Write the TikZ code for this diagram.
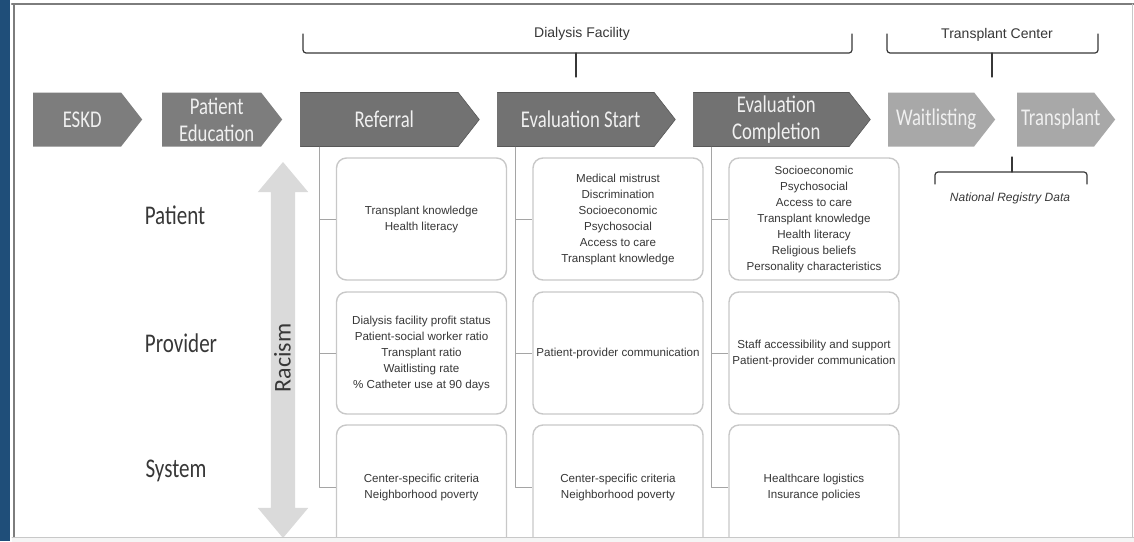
\documentclass[tikz,border=0pt]{standalone}
\usepackage{fontspec}
\setmainfont{Liberation Sans}
\newfontfamily\chevfont[FakeStretch=0.78]{Carlito}
\newfontfamily\racefont{Carlito}
\usetikzlibrary{shapes.symbols,shapes.arrows}

\definecolor{barblue}{RGB}{31,78,121}
\definecolor{framegray}{RGB}{125,125,125}
\definecolor{chevA}{RGB}{125,125,125}
\definecolor{chevB}{RGB}{114,114,114}
\definecolor{chevBline}{RGB}{88,88,88}
\definecolor{chevC}{RGB}{168,168,168}
\definecolor{chevtext}{RGB}{240,240,240}
\definecolor{boxline}{RGB}{200,200,200}
\definecolor{connline}{RGB}{165,165,165}
\definecolor{racegray}{RGB}{218,218,218}
\definecolor{labtext}{RGB}{55,55,55}

% stage text, nudged right of the body centre
\newcommand\stg[1]{\makebox[0pt]{\hspace{10pt}#1}}

\begin{document}
\begin{tikzpicture}[x=1pt,y=-1pt,line cap=round,line join=round,
  chev/.style={signal,signal to=east,signal pointer angle=104,minimum height=54pt,
    inner sep=0pt,anchor=west,text=chevtext,align=center,
    font=\chevfont\fontsize{24}{27}\selectfont},
  early/.style={chev,fill=chevA},
  dial/.style={chev,fill=chevB,draw=chevBline,line width=0.6pt},
  tcen/.style={chev,fill=chevC},
  factor/.style={draw=boxline,line width=1.4pt,rounded corners=10pt,fill=white,
    minimum width=170pt,minimum height=122pt,inner sep=2pt,align=center,
    text=labtext,font=\fontsize{11.6}{16}\selectfont},
  level/.style={text=labtext,font=\chevfont\fontsize{27}{30}\selectfont},
  conn/.style={draw=connline,line width=1pt,line cap=butt},
  brk/.style={draw=labtext,line width=1.2pt,rounded corners=3pt},
  toplab/.style={text=labtext,font=\fontsize{14}{16}\selectfont}]
\useasboundingbox (0,0) rectangle (1134,541);
% frame
\fill[barblue] (0,0) rectangle (10,541);
\draw[framegray,line width=2pt] (13.5,4) -- (13.5,537);
\draw[framegray,line width=2.5pt] (12,4) -- (1134,4);
\draw[boxline,line width=1pt] (1132,4) -- (1132,537);

% stages
\node[early] (eskd) at (33,119.5) [minimum width=109pt] {\stg{ESKD}};
\node[early] (edu) at (162,119.5) [minimum width=120pt] {\stg{Patient}\\\stg{Education}};
\node[dial] (ref) at (300,119.5) [minimum width=179pt] {\stg{Referral}};
\node[dial] (evs) at (497,119.5) [minimum width=178pt] {\stg{Evaluation Start}};
\node[dial] (evc) at (693,119.5) [minimum width=177pt] {\stg{Evaluation}\\\stg{Completion}};
\node[tcen] (wait) at (888,119.5) [minimum width=107pt] {\stg{Waitlisting}};
\node[tcen] (tx) at (1017,119.5) [minimum width=98pt] {\stg{Transplant}};

% brackets
\node[toplab] (dialfac) at (582,34) {Dialysis Facility};
\draw[brk] (303,34) -- (303,53) -- (852,53) -- (852,34);
\draw[brk] (576,53) -- (576,77);
\node[toplab] (tcenter) at (997,35) {Transplant Center};
\draw[brk] (887,34) -- (887,53) -- (1098,53) -- (1098,34);
\draw[brk] (992,53) -- (992,77);
\draw[brk] (935,184) -- (935,172) -- (1087,172) -- (1087,184);
\draw[brk] (1012,172) -- (1012,157);
\node[text=labtext,font=\itshape\fontsize{12}{14}\selectfont] (natreg) at (1010,198) {National Registry Data};

% levels
\node[level] (lpat) at (175,215) {Patient};
\node[level] (lpro) at (181,343) {Provider};
\node[level] (lsys) at (176,471) {System};
\node[double arrow,double arrow head extend=13pt,double arrow tip angle=80,
  minimum height=376pt,fill=racegray,rotate=90,inner xsep=0pt,inner ysep=4.5pt,
  text height=15pt,text depth=0pt,text=labtext,
  font=\racefont\fontsize{24}{24}\selectfont] (racism) at (283,350)
  {\makebox[0pt]{Racism\hspace{16pt}}};

% factors
\node[factor] (pat1) at (421.5,219) {Transplant knowledge\\Health literacy};
\node[factor] (pat2) at (618,219) {Medical mistrust\\Discrimination\\Socioeconomic\\Psychosocial\\Access to care\\Transplant knowledge};
\node[factor] (pat3) at (814,219) {Socioeconomic\\Psychosocial\\Access to care\\Transplant knowledge\\Health literacy\\Religious beliefs\\Personality characteristics};
\node[factor] (pro1) at (421.5,353) {Dialysis facility profit status\\Patient-social worker ratio\\Transplant ratio\\Waitlisting rate\\\% Catheter use at 90 days};
\node[factor] (pro2) at (618,353) {Patient-provider communication};
\node[factor] (pro3) at (814,353) {Staff accessibility and support\\Patient-provider communication};
\node[factor] (sys1) at (421.5,487) [minimum height=124pt] {Center-specific criteria\\Neighborhood poverty};
\node[factor] (sys2) at (618,487) [minimum height=124pt] {Center-specific criteria\\Neighborhood poverty};
\node[factor] (sys3) at (814,487) [minimum height=124pt] {Healthcare logistics\\Insurance policies};

% links
\draw[conn] ([xshift=19pt,yshift=-27pt]ref.west) |- (pat1.west);
\draw[conn] ([xshift=19pt,yshift=-27pt]ref.west) |- (pro1.west);
\draw[conn] ([xshift=19pt,yshift=-27pt]ref.west) |- (sys1.west);
\draw[conn] ([xshift=18pt,yshift=-27pt]evs.west) |- (pat2.west);
\draw[conn] ([xshift=18pt,yshift=-27pt]evs.west) |- (pro2.west);
\draw[conn] ([xshift=18pt,yshift=-27pt]evs.west) |- (sys2.west);
\draw[conn] ([xshift=18pt,yshift=-27pt]evc.west) |- (pat3.west);
\draw[conn] ([xshift=18pt,yshift=-27pt]evc.west) |- (pro3.west);
\draw[conn] ([xshift=18pt,yshift=-27pt]evc.west) |- (sys3.west);

\fill[white!96!black] (12,537) rectangle (1140,548);
\draw[boxline,line width=1pt] (12,537) -- (1134,537);
\end{tikzpicture}
\end{document}
